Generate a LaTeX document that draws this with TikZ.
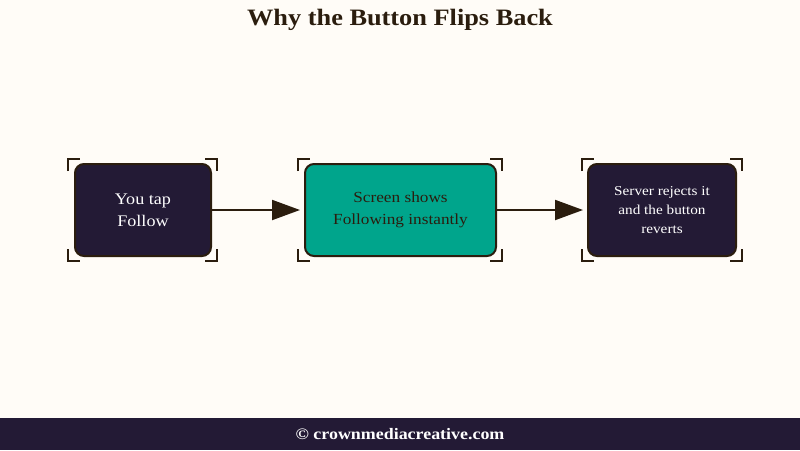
\documentclass[tikz,border=0pt]{standalone}
\usepackage{fontspec}
\setmainfont{Liberation Serif}[FakeStretch=1.12]
\usetikzlibrary{arrows.meta}
\definecolor{bg}{HTML}{FFFCF7}
\definecolor{navy}{HTML}{231A35}
\definecolor{teal}{HTML}{00A58C}
\definecolor{ink}{HTML}{2B1D0E}
\tikzset{
  stepbox/.style={draw=ink, line width=2pt, rounded corners=9pt, inner sep=0pt, align=center},
  darkbox/.style={stepbox, fill=navy, text=white},
  tealbox/.style={stepbox, fill=teal, text=ink},
  flow/.style={draw=ink, line width=2pt, -{Triangle[length=28pt,width=20pt]}},
  bracket/.style={draw=ink, line width=2pt},
}
\newcommand{\brackets}[4]{%
  \draw[bracket] (#1,#2+12) -- (#1,#2) -- (#1+12,#2);
  \draw[bracket] (#3-12,#2) -- (#3,#2) -- (#3,#2+12);
  \draw[bracket] (#1,#4-12) -- (#1,#4) -- (#1+12,#4);
  \draw[bracket] (#3-12,#4) -- (#3,#4) -- (#3,#4-12);
}
\begin{document}
\begin{tikzpicture}[x=1pt,y=-1pt]
\fill[bg] (0,0) rectangle (800,450);
\useasboundingbox (0,0) rectangle (800,450);
\node[text=ink, font=\fontsize{23.5}{26}\selectfont\bfseries] (title) at (400,20) {Why the Button Flips Back};
\brackets{68}{159}{217}{261}
\brackets{298}{159}{502}{261}
\brackets{582}{159}{742}{261}
\node[darkbox, minimum width=136pt, minimum height=92pt, font=\fontsize{16.2}{22}\selectfont] (a) at (143,210) {You tap\\Follow};
\node[tealbox, minimum width=191pt, minimum height=92pt, font=\fontsize{15.4}{22}\selectfont] (b) at (400.5,210) {Screen shows\\Following instantly};
\node[darkbox, minimum width=148pt, minimum height=92pt, font=\fontsize{13.6}{19}\selectfont] (c) at (662,210) {Server rejects it\\and the button\\reverts};
\draw[flow] (a.east) -- ([xshift=-4pt]b.west);
\draw[flow] (b.east) -- ([xshift=-4pt]c.west);
\fill[navy] (0,418) rectangle (800,450);
\node[text=white, font=\fontsize{16}{18}\selectfont\bfseries] (foot) at (400,434) {© crownmediacreative.com};
\end{tikzpicture}
\end{document}
